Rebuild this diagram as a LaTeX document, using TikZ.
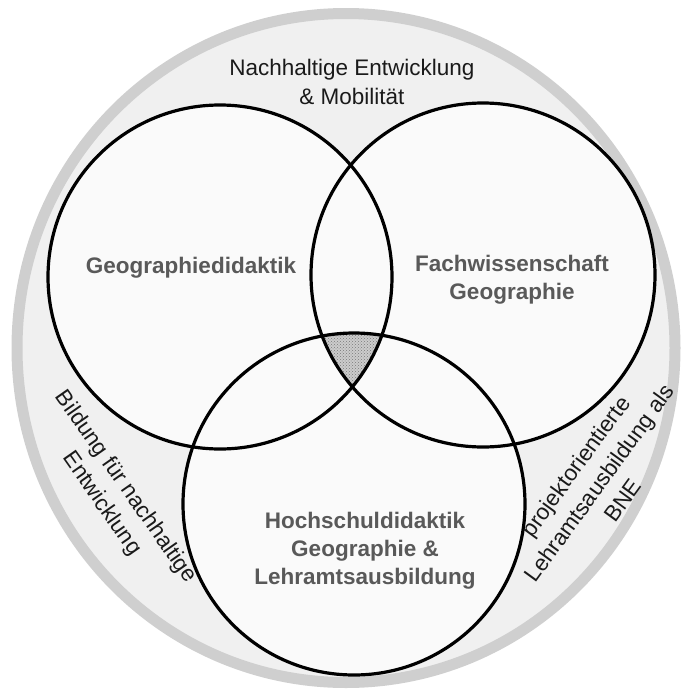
\documentclass[tikz,border=0pt]{standalone}
\usepackage{fontspec}
\setmainfont{Liberation Sans}
\usetikzlibrary{patterns}
\definecolor{ringgray}{HTML}{CFCFCF}
\definecolor{fieldgray}{HTML}{F0F0F0}
\definecolor{circlefill}{HTML}{FAFAFA}
\definecolor{coregray}{HTML}{CCCCCC}
\definecolor{coredots}{HTML}{7A7A7A}
\definecolor{labelgray}{HTML}{595959}
\definecolor{ink}{HTML}{1A1A1A}
\begin{document}
\begin{tikzpicture}[x=1pt,y=-1pt,
  ring/.style={draw=ringgray,line width=11pt,fill=fieldgray},
  vennline/.style={draw=black,line width=3.2pt},
  topic/.style={font=\fontsize{22.5}{28}\selectfont\bfseries,text=labelgray,align=center,inner sep=0pt},
  theme/.style={font=\fontsize{22.5}{29}\selectfont,text=ink,align=center,inner sep=0pt}]
\useasboundingbox (0,0) rectangle (682,691);

% outer field
\path[ring] (346,348) ellipse [x radius=329pt, y radius=334.5pt];

% circle centres
\coordinate (cA) at (220,277);
\coordinate (cB) at (483,275);
\coordinate (cC) at (354,504);

% circle fills
\fill[circlefill] (cA) circle [radius=172pt];
\fill[circlefill] (cB) circle [radius=172pt];
\fill[circlefill] (cC) circle [radius=171pt];

% common core of all three circles, dotted
\begin{scope}
  \clip (cA) circle [radius=172pt];
  \clip (cB) circle [radius=172pt];
  \fill[coregray] (cC) circle [radius=171pt];
  \fill[pattern=crosshatch dots,pattern color=coredots] (cC) circle [radius=171pt];
\end{scope}

% circle outlines
\draw[vennline] (cA) circle [radius=172pt];
\draw[vennline] (cB) circle [radius=172pt];
\draw[vennline] (cC) circle [radius=171pt];

% labels
\node[theme] (nachhaltig) at (352,82) {Nachhaltige Entwicklung\\\& Mobilität};
\node[topic] (didaktik) at (191,268) {Geographiedidaktik};
\node[topic] (fach) at (512,280) {Fachwissenschaft\\Geographie};
\node[topic] (hochschule) at (365,551) {Hochschuldidaktik\\Geographie \&\\Lehramtsausbildung};
\node[theme,rotate=-55] (bne) at (113.5,495.5) {Bildung für nachhaltige\\Entwicklung};
\node[theme,rotate=54] (projekt) at (599,483) {projektorientierte\\Lehramtsausbildung als\\BNE};
\end{tikzpicture}
\end{document}
